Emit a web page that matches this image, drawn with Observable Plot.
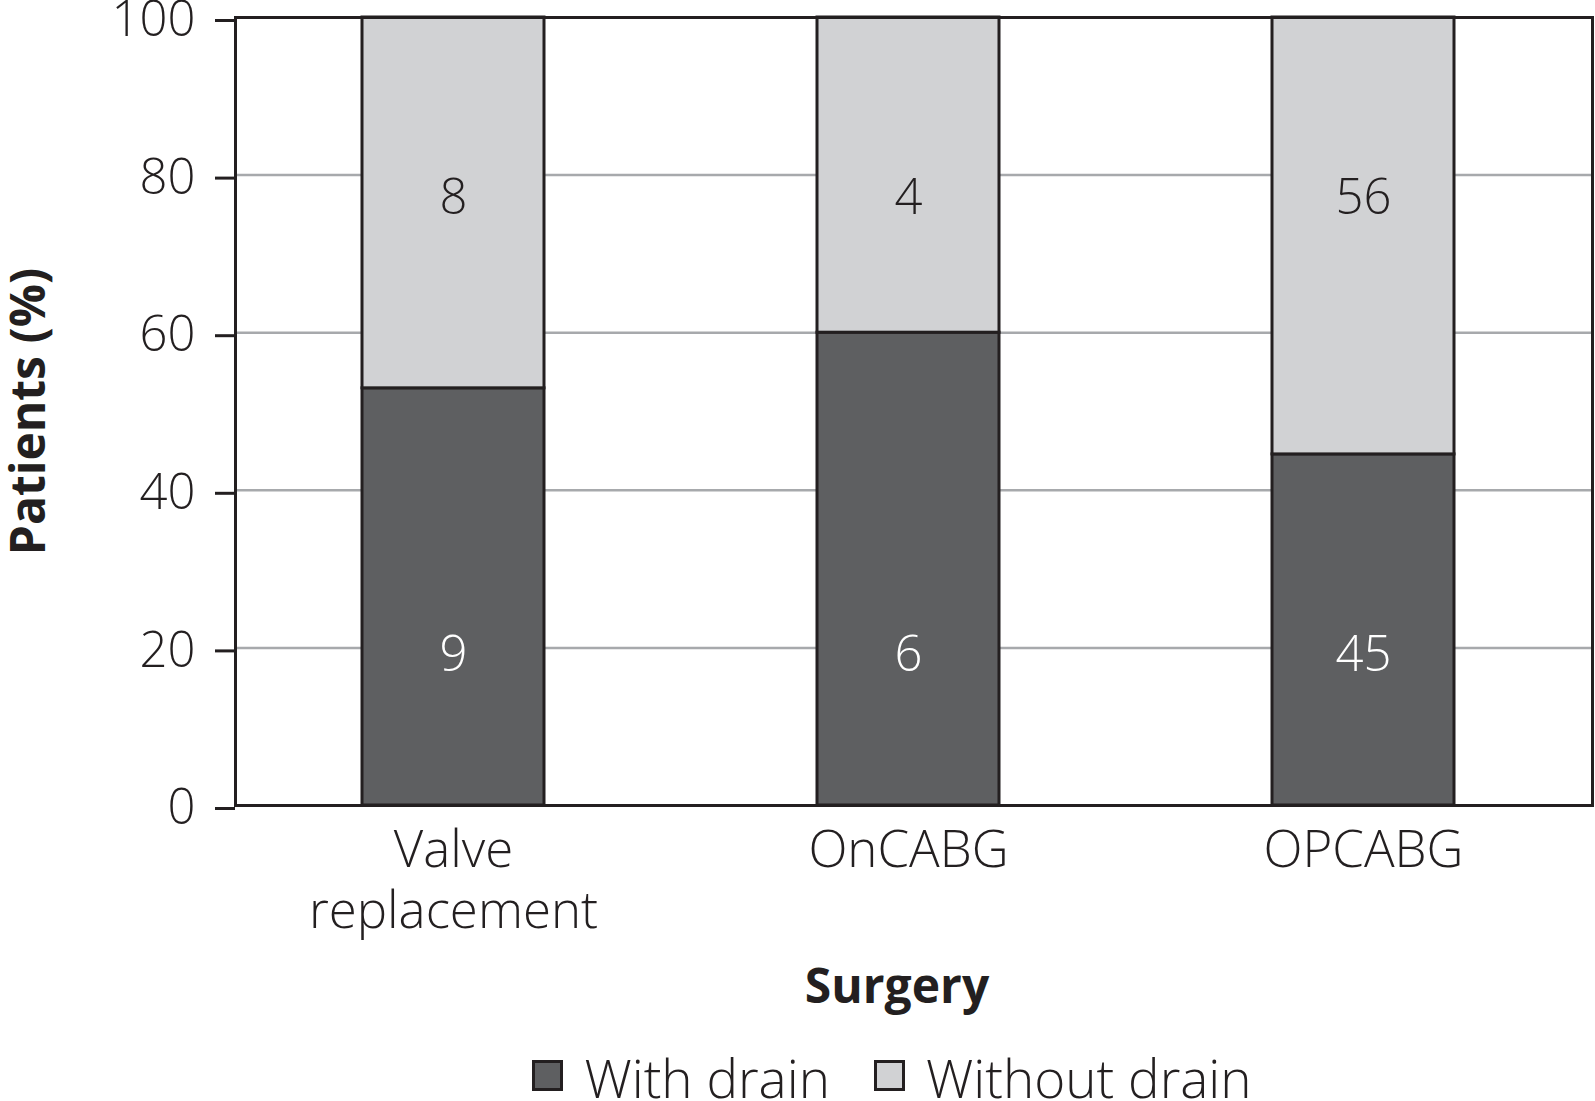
<!DOCTYPE html>
<html>
<head>
<meta charset="utf-8">
<script src="https://cdn.jsdelivr.net/npm/d3@7"></script>
<script src="https://cdn.jsdelivr.net/npm/@observablehq/plot@0.6"></script>
<style>
  html, body { margin: 0; padding: 0; background: #fff; overflow: hidden; font-family: "Open Sans", sans-serif; }
  #chart svg { display: block; max-width: none !important; }
  .legend { display: flex; justify-content: center; align-items: center; gap: 44px; height: 74px;
            font-size: 53px; font-weight: 300; color: #231f20; padding-left: 189px; box-sizing: border-box; line-height: 1; }
  .legend .item { display: flex; align-items: center; }
  .legend .sw { width: 25px; height: 25px; border: 3px solid #231f20; margin-right: 21px; margin-top: -4px; }
</style>
</head>
<body>
<div id="chart"></div>
<div class="legend" id="legend"></div>
<script>
const categories = ["Valve replacement", "OnCABG", "OPCABG"];
const tickLabels = ["Valve\nreplacement", "OnCABG", "OPCABG"];
const groups = ["With drain", "Without drain"];
const withDrain = [9, 6, 45];
const withoutDrain = [8, 4, 56];
const colors = ["#5e5f61", "#d1d2d4"];
const yTicks = [0, 20, 40, 60, 80, 100];

const rows = [];
categories.forEach((c, i) => {
  const total = withDrain[i] + withoutDrain[i];
  rows.push({cat: c, group: groups[0], count: withDrain[i], pct: 100 * withDrain[i] / total});
  rows.push({cat: c, group: groups[1], count: withoutDrain[i], pct: 100 * withoutDrain[i] / total});
});

const plot = Plot.plot({
  width: 1595,
  height: 1040,
  marginLeft: 235,
  marginRight: 3,
  marginTop: 17,
  marginBottom: 235,
  style: {fontFamily: "'Open Sans', sans-serif", fontSize: "49px", color: "#231f20", fontWeight: 300, overflow: "visible"},
  x: {domain: categories, range: [225, 1590], paddingInner: 0.6, paddingOuter: 0.3},
  y: {domain: [0, 100]},
  color: {domain: groups, range: colors},
  marks: [
    Plot.gridY(yTicks, {stroke: "#a7a9ac", strokeOpacity: 1, strokeWidth: 2.5}),
    Plot.barY(rows, {x: "cat", y: "pct", fill: "group", stroke: "#231f20", strokeWidth: 3}),
    Plot.text(rows.filter(d => d.group === groups[0]), {x: "cat", y: () => 19, text: "count", fill: "#ffffff", fontSize: 49}),
    Plot.text(rows.filter(d => d.group === groups[1]), {x: "cat", y: () => 77, text: "count", fill: "#231f20", fontSize: 49}),
    Plot.frame({stroke: "#231f20", strokeWidth: 3}),
    Plot.axisY(yTicks, {tickSize: 20, tickPadding: 20, strokeWidth: 3, stroke: "#231f20", dy: 3,
      label: "Patients (%)", labelAnchor: "center", labelArrow: "none", labelOffset: 225, fontSize: 49}),
    Plot.axisX({tickSize: 0, tickPadding: 18, tickFormat: (d) => tickLabels[categories.indexOf(d)],
      lineHeight: 1.2, fontSize: 51, label: null}),
    Plot.text(["Surgery"], {frameAnchor: "bottom", lineAnchor: "bottom", dy: 197, dx: -17,
      fontSize: 48, fontWeight: 700, fill: "#231f20"})
  ]
});
document.getElementById("chart").appendChild(plot);
plot.querySelectorAll('[aria-label="y-axis label"] text').forEach(t => {
  t.setAttribute("font-weight", "700");
  t.setAttribute("font-size", "48");
});

const lg = document.getElementById("legend");
groups.forEach((g, i) => {
  const it = document.createElement("div");
  it.className = "item";
  const sw = document.createElement("div");
  sw.className = "sw";
  sw.style.background = colors[i];
  const t = document.createElement("span");
  t.textContent = g;
  it.appendChild(sw); it.appendChild(t);
  lg.appendChild(it);
});
</script>
</body>
</html>
